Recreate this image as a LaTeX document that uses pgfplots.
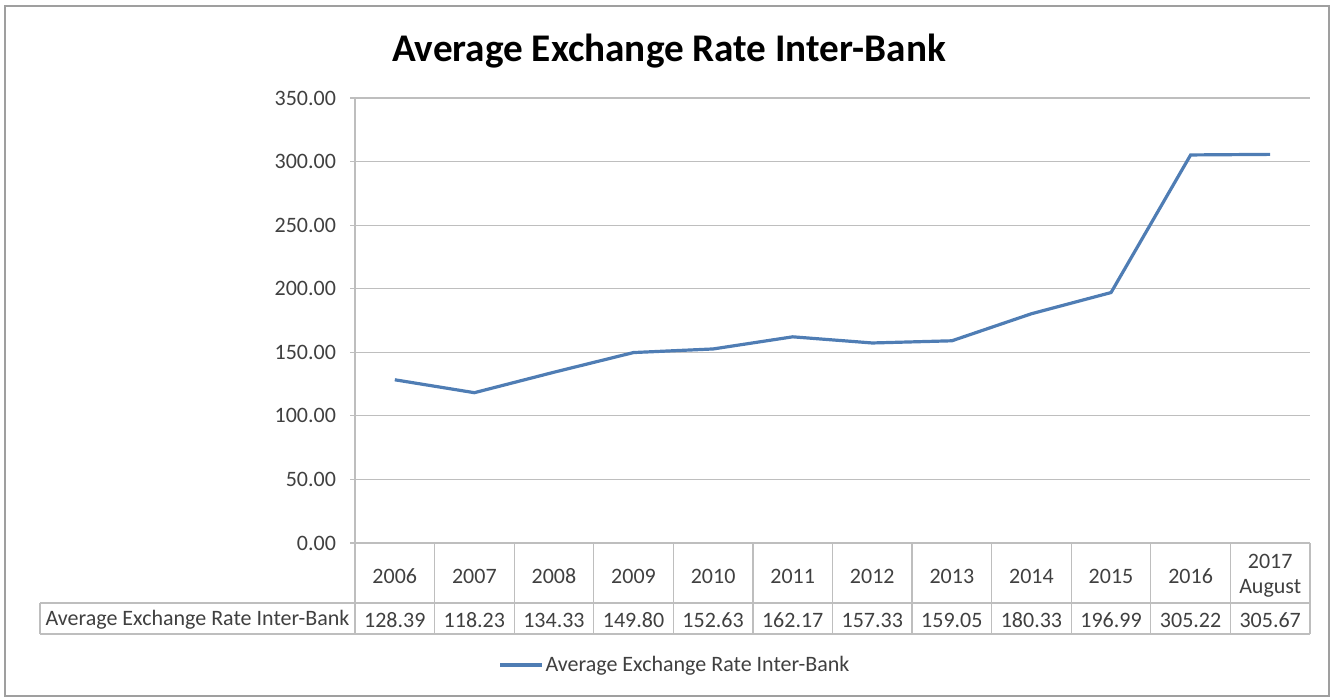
\documentclass[border=0pt]{standalone}
\usepackage{fontspec}
\setmainfont{Carlito}
\usepackage{pgfplots}
\pgfplotsset{compat=1.18}
\definecolor{serblue}{RGB}{79,125,180}
\definecolor{txt}{RGB}{64,64,64}
\definecolor{gridc}{RGB}{190,190,190}
\begin{document}
\begin{tikzpicture}[x=0.5pt,y=-0.5pt]
\useasboundingbox (0,0) rectangle (1335,698);
\draw[draw=gray!75, line width=1pt] (5,6) rectangle (1329,696);
\node[font=\fontsize{19.6}{22}\selectfont\bfseries, text=black] at (669,51) {Average Exchange Rate Inter-Bank};
\coordinate (O) at (355,543);
\begin{axis}[
  at={(O)}, anchor=south west,
  scale only axis, width=477.5pt, height=222.5pt,
  xmin=-0.5, xmax=11.5, ymin=0, ymax=350,
  axis x line*=bottom, axis y line*=left,
  axis line style={draw=gridc, line width=0.6pt, -},
  ytick={0,50,...,350},
  ymajorgrids, grid style={draw=gridc, line width=0.6pt},
  tick align=outside, major tick length=2.5pt,
  y tick style={draw=gridc, line width=0.6pt},
  x tick style={draw=none},
  xtick={0,...,11},
  xticklabels={2006,2007,2008,2009,2010,2011,2012,2013,2014,2015,2016,{2017\\August}},
  xticklabel style={align=center, anchor=center, yshift=-14pt, font=\fontsize{11}{12.5}\selectfont, text=txt},
  yticklabel style={/pgf/number format/fixed, /pgf/number format/precision=2, /pgf/number format/fixed zerofill, /pgf/number format/assume math mode=true, font=\fontsize{11}{12}\selectfont, text=txt},
  yticklabel shift=3.5pt,
  legend style={at={(axis description cs:0.335,-0.274)}, anchor=center, draw=none, font=\fontsize{11}{12}\selectfont, text=txt, inner sep=0pt, nodes={inner sep=1pt}},
  legend image code/.code={\draw[#1] (0pt,0pt) -- (21pt,0pt);},
  clip=false,
]
\addplot[color=serblue, line width=1.6pt, mark=none] coordinates {
(0,128.39) (1,118.23) (2,134.33) (3,149.80) (4,152.63) (5,162.17)
(6,157.33) (7,159.05) (8,180.33) (9,196.99) (10,305.22) (11,305.67)};
\addlegendentry{Average Exchange Rate Inter-Bank}
\end{axis}
\begin{scope}[draw=gridc, line width=0.6pt]
\foreach \k in {0,...,12} \draw ({355+79.5833*\k},543) -- ({355+79.5833*\k},634);
\draw (40,603) -- (1310,603);
\draw (40,634) -- (1310,634);
\draw (40,603) -- (40,634);
\end{scope}
\node[font=\fontsize{11}{12}\selectfont, text=txt] at (197.5,620) {Average Exchange Rate Inter-Bank};
\foreach \i/\v in {0/128.39,1/118.23,2/134.33,3/149.80,4/152.63,5/162.17,6/157.33,7/159.05,8/180.33,9/196.99,10/305.22,11/305.67}
  \node[font=\fontsize{11}{12}\selectfont, text=txt] at ({355+79.5833*(\i+0.5)},620) {\v};
\end{tikzpicture}
\end{document}
